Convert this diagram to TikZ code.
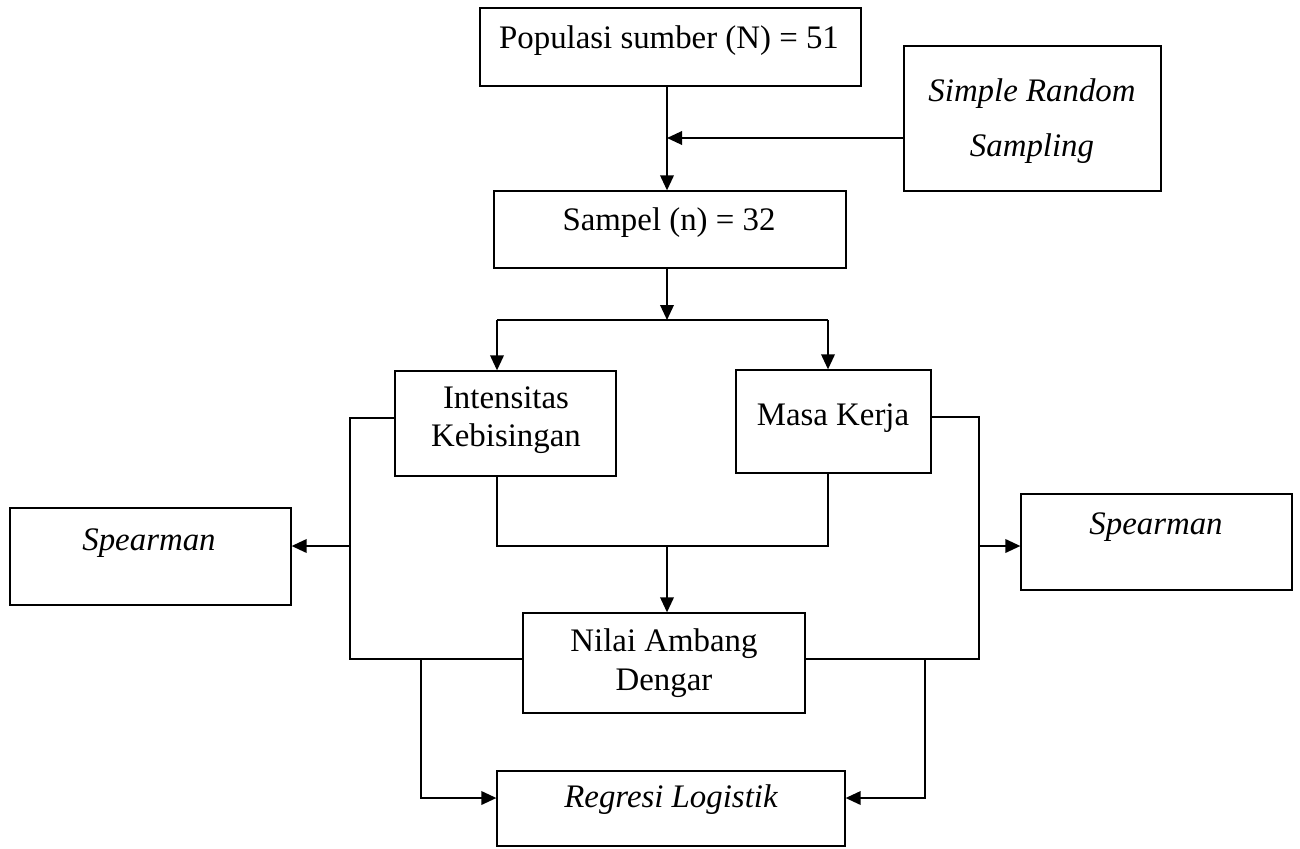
\documentclass[tikz,border=0pt]{standalone}
\usepackage{fontspec}
\setmainfont{Liberation Serif}
\usetikzlibrary{arrows.meta}
\begin{document}
\begin{tikzpicture}[x=0.02cm,y=-0.02cm,
  box/.style={draw, line width=0.75pt, inner sep=0pt, rectangle},
  txt/.style={inner sep=0pt, align=center, font=\fontsize{18.7}{21.8}\selectfont},
  txtw/.style={inner sep=0pt, align=center, font=\fontsize{18.7}{31.7}\selectfont\itshape},
  conn/.style={line width=1.1pt},
  arr/.style={line width=1.1pt, -{Triangle[length=0.3cm,width=0.27cm]}}]
\useasboundingbox (0,0) rectangle (1300,848);
% boxes
\node[box, minimum width=7.62cm, minimum height=1.56cm] (pop) at (670.5,47) {};
\node[box, minimum width=5.14cm, minimum height=2.90cm] (srs) at (1032.5,118.5) {};
\node[box, minimum width=7.04cm, minimum height=1.54cm] (samp) at (670,229.5) {};
\node[box, minimum width=4.42cm, minimum height=2.10cm] (ik) at (505.5,423.5) {};
\node[box, minimum width=3.90cm, minimum height=2.06cm] (mk) at (833.5,421.5) {};
\node[box, minimum width=5.64cm, minimum height=2.00cm] (nad) at (664,663) {};
\node[box, minimum width=5.62cm, minimum height=1.94cm] (spl) at (150.5,556.5) {};
\node[box, minimum width=5.42cm, minimum height=1.92cm] (spr) at (1156.5,542) {};
\node[box, minimum width=6.96cm, minimum height=1.50cm] (reg) at (671,808.5) {};
% texts
\node[txt] (tpop) at (669,41) {Populasi sumber (N) = 51};
\node[txtw] (tsrs) at (1032,121) {Simple Random\\Sampling};
\node[txt] (tsamp) at (669,223) {Sampel (n) = 32};
\node[txt] (tik) at (506,420) {Intensitas\\Kebisingan};
\node[txt] (tmk) at (833,418) {Masa Kerja};
\node[txt] (tnad) at (664,663) {Nilai Ambang\\Dengar};
\node[txt, font=\fontsize{18.7}{21.8}\selectfont\itshape] (tspl) at (149,543) {Spearman};
\node[txt, font=\fontsize{18.7}{21.8}\selectfont\itshape] (tspr) at (1156,527) {Spearman};
\node[txt, font=\fontsize{18.7}{21.8}\selectfont\itshape] (treg) at (671,800) {Regresi Logistik};
% helper coordinates
\coordinate (vx) at (667,0);
\coordinate (ha) at (0,138);
\coordinate (hb) at (0,320);
\coordinate (bl) at (497,0);
\coordinate (br) at (828,0);
\coordinate (hm) at (0,546);
\coordinate (lx) at (350,0);
\coordinate (rx) at (979,0);
\coordinate (hl) at (0,418);
\coordinate (hr) at (0,417);
\coordinate (hbot) at (0,659);
\coordinate (dlx) at (421,0);
\coordinate (drx) at (925,0);
\coordinate (hreg) at (0,798);
% connectors
\draw[arr] (pop.south -| vx) -- (samp.north -| vx);
\draw[arr] (srs.west |- ha) -- (vx |- ha);
\draw[arr] (samp.south -| vx) -- (vx |- hb);
\draw[conn] (bl |- hb) -- (br |- hb);
\draw[arr] (bl |- hb) -- (ik.north -| bl);
\draw[arr] (br |- hb) -- (mk.north -| br);
\draw[conn] (ik.south -| bl) -- (bl |- hm) -- (br |- hm) -- (mk.south -| br);
\draw[arr] (vx |- hm) -- (nad.north -| vx);
\draw[conn] (ik.west |- hl) -- (lx |- hl) -- (lx |- hbot) -- (nad.west |- hbot);
\draw[arr] (lx |- hm) -- (spl.east |- hm);
\draw[conn] (mk.east |- hr) -- (rx |- hr) -- (rx |- hbot) -- (nad.east |- hbot);
\draw[arr] (rx |- hm) -- (spr.west |- hm);
\draw[arr] (dlx |- hbot) -- (dlx |- hreg) -- (reg.west |- hreg);
\draw[arr] (drx |- hbot) -- (drx |- hreg) -- (reg.east |- hreg);
\end{tikzpicture}
\end{document}
